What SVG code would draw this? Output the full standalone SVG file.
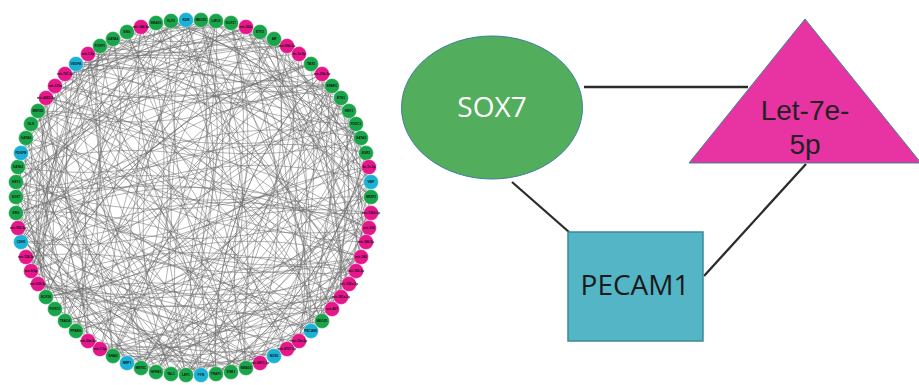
<svg xmlns="http://www.w3.org/2000/svg" width="919" height="385" viewBox="0 0 919 385">
<style>
.g{fill:#1ba54b}.m{fill:#e5178b}.b{fill:#1cb2d6}
.nd{stroke:#ffffff;stroke-width:0.4}
.lb{font-family:"Liberation Sans",Arial,sans-serif;font-size:3.2px;font-weight:bold;fill:#111;text-anchor:middle}
.e{fill:none;stroke:#6a6a6a;stroke-width:0.7;stroke-opacity:0.72}
.c{stroke:#2b2b2b;stroke-width:2.3;fill:none}
.big{font-family:"Open Sans","Noto Sans",sans-serif;font-size:28px;text-anchor:middle}
.tri{font-family:"Liberation Sans",Arial,sans-serif;font-size:28px;text-anchor:middle}
</style>
<rect width="919" height="385" fill="#ffffff"/>
<g id="network-edges">
<path class="e" d="M371 197A400 400 0 0 1 16 197M371 213A400 400 0 0 1 127 363M369 228A400 400 0 0 1 156 23M366 242A400 400 0 0 1 216 374M361 257A400 400 0 0 1 100 46M356 271A400 400 0 0 1 21 242M349 284A400 400 0 0 1 332 86M341 297A400 400 0 0 1 21 153M332 309A400 400 0 0 1 88 341M322 321A400 400 0 0 1 113 39M311 331A400 400 0 0 1 322 74M299 341A400 400 0 0 1 16 197M287 349A400 400 0 0 1 246 27M274 356A400 400 0 0 1 100 349M260 363A400 400 0 0 1 141 27M246 368A400 400 0 0 1 361 257M231 372A400 400 0 0 1 16 213M216 374A400 400 0 0 1 274 39M201 375A400 400 0 0 1 100 46M186 375A400 400 0 0 1 369 228M171 374A400 400 0 0 1 16 213M156 372A400 400 0 0 1 361 138M141 368A400 400 0 0 1 216 21M127 363A400 400 0 0 1 76 64M113 356A400 400 0 0 1 332 309M100 349A400 400 0 0 1 322 74M88 341A400 400 0 0 1 18 167M76 331A400 400 0 0 1 356 271M65 321A400 400 0 0 1 201 20M55 309A400 400 0 0 1 371 213M46 297A400 400 0 0 1 100 46M38 284A400 400 0 0 1 201 375M31 271A400 400 0 0 1 332 86M26 257A400 400 0 0 1 369 228M21 242A400 400 0 0 1 246 27M18 228A400 400 0 0 1 246 368M16 213A400 400 0 0 1 127 32M16 197A400 400 0 0 1 366 242M16 182A400 400 0 0 1 260 363M18 167A400 400 0 0 1 332 86M21 153A400 400 0 0 1 65 321M26 138A400 400 0 0 1 287 46M31 124A400 400 0 0 1 231 372M38 111A400 400 0 0 1 356 271M46 98A400 400 0 0 1 274 39M55 86A400 400 0 0 1 76 331M65 74A400 400 0 0 1 369 228M76 64A400 400 0 0 1 246 368M88 54A400 400 0 0 1 246 27M100 46A400 400 0 0 1 21 242M113 39A400 400 0 0 1 371 182M127 32A400 400 0 0 1 141 368M141 27A400 400 0 0 1 311 331M156 23A400 400 0 0 1 31 271M171 21A400 400 0 0 1 371 182M186 20A400 400 0 0 1 156 372M201 20A400 400 0 0 1 65 74M216 21A400 400 0 0 1 299 341M231 23A400 400 0 0 1 156 372M246 27A400 400 0 0 1 371 182M260 32A400 400 0 0 1 16 213M274 39A400 400 0 0 1 274 356M287 46A400 400 0 0 1 31 271M299 54A400 400 0 0 1 141 368M311 64A400 400 0 0 1 88 54M322 74A400 400 0 0 1 287 349M332 86A400 400 0 0 1 18 167M341 98A400 400 0 0 1 65 321M349 111A400 400 0 0 1 349 284M356 124A400 400 0 0 1 113 39M361 138A400 400 0 0 1 100 349M366 153A400 400 0 0 1 16 182M369 167A400 400 0 0 1 141 368M371 182A400 400 0 0 1 246 27"/>
<path class="e" d="M371 197A400 400 0 0 0 65 321M371 213A400 400 0 0 0 76 64M369 228A400 400 0 0 0 156 372M366 242A400 400 0 0 0 16 213M361 257A400 400 0 0 0 201 20M356 271A400 400 0 0 0 55 309M349 284A400 400 0 0 0 76 64M341 297A400 400 0 0 0 141 368M332 309A400 400 0 0 0 322 74M322 321A400 400 0 0 0 55 86M311 331A400 400 0 0 0 26 257M299 341A400 400 0 0 0 246 27M287 349A400 400 0 0 0 38 111M274 356A400 400 0 0 0 371 213M260 363A400 400 0 0 0 38 284M246 368A400 400 0 0 0 231 23M231 372A400 400 0 0 0 38 111M216 374A400 400 0 0 0 366 153M201 375A400 400 0 0 0 201 20M186 375A400 400 0 0 0 31 271M171 374A400 400 0 0 0 361 138M156 372A400 400 0 0 0 201 20M141 368A400 400 0 0 0 38 111M127 363A400 400 0 0 0 341 98M113 356A400 400 0 0 0 156 23M100 349A400 400 0 0 0 311 331M88 341A400 400 0 0 0 31 124M76 331A400 400 0 0 0 341 98M65 321A400 400 0 0 0 341 297M55 309A400 400 0 0 0 171 21M46 297A400 400 0 0 0 341 98M38 284A400 400 0 0 0 361 257M31 271A400 400 0 0 0 141 27M26 257A400 400 0 0 0 246 368M21 242A400 400 0 0 0 332 86M18 228A400 400 0 0 0 100 46M16 213A400 400 0 0 0 341 297M16 197A400 400 0 0 0 299 54M16 182A400 400 0 0 0 100 349M18 167A400 400 0 0 0 361 257M21 153A400 400 0 0 0 231 23M26 138A400 400 0 0 0 201 375M31 124A400 400 0 0 0 369 228M38 111A400 400 0 0 0 322 74M46 98A400 400 0 0 0 186 375M55 86A400 400 0 0 0 371 213M65 74A400 400 0 0 0 46 297M76 64A400 400 0 0 0 231 372M88 54A400 400 0 0 0 260 32M100 46A400 400 0 0 0 299 341M113 39A400 400 0 0 0 38 284M127 32A400 400 0 0 0 361 257M141 27A400 400 0 0 0 26 138M156 23A400 400 0 0 0 369 167M171 21A400 400 0 0 0 88 341M186 20A400 400 0 0 0 260 363M201 20A400 400 0 0 0 349 284M216 21A400 400 0 0 0 18 228M231 23A400 400 0 0 0 113 356M246 27A400 400 0 0 0 371 197M260 32A400 400 0 0 0 38 111M274 39A400 400 0 0 0 201 375M287 46A400 400 0 0 0 332 309M299 54A400 400 0 0 0 16 197M311 64A400 400 0 0 0 76 331M322 74A400 400 0 0 0 216 374M332 86A400 400 0 0 0 16 213M341 98A400 400 0 0 0 349 284M349 111A400 400 0 0 0 76 64M356 124A400 400 0 0 0 113 356M361 138A400 400 0 0 0 18 228M366 153A400 400 0 0 0 186 375M369 167A400 400 0 0 0 246 27M371 182A400 400 0 0 0 21 242"/>
<path class="e" d="M371 197A400 400 0 0 1 322 321M371 213A400 400 0 0 1 38 284M369 228A400 400 0 0 1 349 111M366 242A400 400 0 0 1 55 86M361 257A400 400 0 0 1 287 349M356 271A400 400 0 0 1 21 153M349 284A400 400 0 0 1 100 349M341 297A400 400 0 0 1 260 32M332 309A400 400 0 0 1 18 228M322 321A400 400 0 0 1 371 182M311 331A400 400 0 0 1 88 54M299 341A400 400 0 0 1 156 372M287 349A400 400 0 0 1 216 21M274 356A400 400 0 0 1 18 228M260 363A400 400 0 0 1 371 182M246 368A400 400 0 0 1 88 54M231 372A400 400 0 0 1 127 363M216 374A400 400 0 0 1 322 74M201 375A400 400 0 0 1 46 98M186 375A400 400 0 0 1 349 284M171 374A400 400 0 0 1 201 20M156 372A400 400 0 0 1 18 228M141 368A400 400 0 0 1 371 182M127 363A400 400 0 0 1 141 27M113 356A400 400 0 0 1 341 98M100 349A400 400 0 0 1 231 372M88 341A400 400 0 0 1 46 98M76 331A400 400 0 0 1 349 111M65 321A400 400 0 0 1 311 331M55 309A400 400 0 0 1 26 138M46 297A400 400 0 0 1 311 64M38 284A400 400 0 0 1 349 284M31 271A400 400 0 0 1 186 20M26 257A400 400 0 0 1 186 375M21 242A400 400 0 0 1 322 74M18 228A400 400 0 0 1 26 138M16 213A400 400 0 0 1 322 321M16 197A400 400 0 0 1 287 46M16 182A400 400 0 0 1 156 372M18 167A400 400 0 0 1 369 228M21 153A400 400 0 0 1 186 20M26 138A400 400 0 0 1 186 375M31 124A400 400 0 0 1 361 138M38 111A400 400 0 0 1 38 284M46 98A400 400 0 0 1 322 321M55 86A400 400 0 0 1 201 20M65 74A400 400 0 0 1 231 372M76 64A400 400 0 0 1 341 98M88 54A400 400 0 0 1 65 321M100 46A400 400 0 0 1 341 297M113 39A400 400 0 0 1 38 111M127 32A400 400 0 0 1 371 213M141 27A400 400 0 0 1 113 356M156 23A400 400 0 0 1 361 138M171 21A400 400 0 0 1 16 182M186 20A400 400 0 0 1 141 368M201 20A400 400 0 0 1 356 124M216 21A400 400 0 0 1 26 257M231 23A400 400 0 0 1 171 374M246 27A400 400 0 0 1 88 54M260 32A400 400 0 0 1 341 297M274 39A400 400 0 0 1 31 271M287 46A400 400 0 0 1 201 375M299 54A400 400 0 0 1 369 167M311 64A400 400 0 0 1 55 86M322 74A400 400 0 0 1 201 375M332 86A400 400 0 0 1 46 297M341 98A400 400 0 0 1 322 321M349 111A400 400 0 0 1 156 23M356 124A400 400 0 0 1 55 309M361 138A400 400 0 0 1 46 98M366 153A400 400 0 0 1 216 374M369 167A400 400 0 0 1 21 153M371 182A400 400 0 0 1 100 349"/>
<path class="e" d="M371 197A400 400 0 0 0 356 271M369 228A400 400 0 0 0 311 331M361 257A400 400 0 0 0 311 331M349 284A400 400 0 0 0 274 356M332 309A400 400 0 0 0 246 368M311 331A400 400 0 0 0 186 375M287 349A400 400 0 0 0 216 374M260 363A400 400 0 0 0 46 297M231 372A400 400 0 0 0 113 356M201 375A400 400 0 0 0 141 368M171 374A400 400 0 0 0 38 284M141 368A400 400 0 0 0 65 321M113 356A400 400 0 0 0 16 213M88 341A400 400 0 0 0 21 153M65 321A400 400 0 0 0 18 228M46 297A400 400 0 0 0 38 111M31 271A400 400 0 0 0 55 86M21 242A400 400 0 0 0 31 124M16 213A400 400 0 0 0 21 153M16 182A400 400 0 0 0 156 23M21 153A400 400 0 0 0 55 86M31 124A400 400 0 0 0 156 23M46 98A400 400 0 0 0 141 27M65 74A400 400 0 0 0 201 20M88 54A400 400 0 0 0 216 21M113 39A400 400 0 0 0 332 86M141 27A400 400 0 0 0 231 23M171 21A400 400 0 0 0 287 46M201 20A400 400 0 0 0 274 39M231 23A400 400 0 0 0 361 138M260 32A400 400 0 0 0 371 197M287 46A400 400 0 0 0 366 153M311 64A400 400 0 0 0 366 242M332 86A400 400 0 0 0 366 153M349 111A400 400 0 0 0 361 257M361 138A400 400 0 0 0 366 242M369 167A400 400 0 0 0 311 331"/>
<path class="e" d="M371 197A400 400 0 0 0 76 64M371 213A400 400 0 0 0 186 375M369 228A400 400 0 0 0 18 228M366 242A400 400 0 0 0 274 39M361 257A400 400 0 0 0 46 297M356 271A400 400 0 0 0 55 86M349 284A400 400 0 0 0 156 372M341 297A400 400 0 0 0 246 27M332 309A400 400 0 0 0 46 98M322 321A400 400 0 0 0 46 297M311 331A400 400 0 0 0 171 21M299 341A400 400 0 0 0 26 138M287 349A400 400 0 0 0 371 182M274 356A400 400 0 0 0 16 197M260 363A400 400 0 0 0 299 54M246 368A400 400 0 0 0 65 321M231 372A400 400 0 0 0 171 21M216 374A400 400 0 0 0 369 167M201 375A400 400 0 0 0 65 74M186 375A400 400 0 0 0 274 39M171 374A400 400 0 0 0 18 167M156 372A400 400 0 0 0 311 331M141 368A400 400 0 0 0 201 20M127 363A400 400 0 0 0 356 124M113 356A400 400 0 0 0 26 138M100 349A400 400 0 0 0 361 257M88 341A400 400 0 0 0 216 21M76 331A400 400 0 0 0 332 86M65 321A400 400 0 0 0 113 39M55 309A400 400 0 0 0 287 349M46 297A400 400 0 0 0 216 21M38 284A400 400 0 0 0 369 228M31 271A400 400 0 0 0 65 74M26 257A400 400 0 0 0 322 321M21 242A400 400 0 0 0 356 124M18 228A400 400 0 0 0 156 372M16 213A400 400 0 0 0 246 27M16 197A400 400 0 0 0 361 257M16 182A400 400 0 0 0 341 98M18 167A400 400 0 0 0 156 372M21 153A400 400 0 0 0 201 20M26 138A400 400 0 0 0 246 368M31 124A400 400 0 0 0 371 197M38 111A400 400 0 0 0 287 349M46 98A400 400 0 0 0 356 124M55 86A400 400 0 0 0 46 297M65 74A400 400 0 0 0 332 86M76 64A400 400 0 0 0 311 331M88 54A400 400 0 0 0 100 349M100 46A400 400 0 0 0 274 39M113 39A400 400 0 0 0 171 374M127 32A400 400 0 0 0 341 297M141 27A400 400 0 0 0 31 271M156 23A400 400 0 0 0 366 153M171 21A400 400 0 0 0 186 375M186 20A400 400 0 0 0 332 309M201 20A400 400 0 0 0 46 98M216 21A400 400 0 0 0 201 375M231 23A400 400 0 0 0 356 271M246 27A400 400 0 0 0 31 271M260 32A400 400 0 0 0 186 375M274 39A400 400 0 0 0 366 242M287 46A400 400 0 0 0 21 153M299 54A400 400 0 0 0 246 368M311 64A400 400 0 0 0 46 297M322 74A400 400 0 0 0 100 46M332 86A400 400 0 0 0 246 368M341 98A400 400 0 0 0 16 182M349 111A400 400 0 0 0 100 349M356 124A400 400 0 0 0 322 321M361 138A400 400 0 0 0 65 74M366 153A400 400 0 0 0 21 242M369 167A400 400 0 0 0 88 341M371 182A400 400 0 0 0 171 21"/>
</g>
<g id="network-nodes">
<g id="k0"><circle class="nd g" cx="371" cy="197" r="7.5"/><text class="lb" x="371" y="198.1">NR2F2</text></g>
<g id="k1"><circle class="nd m" cx="371" cy="213" r="7.5"/><text class="lb" x="371" y="214.1">mir-1306-5p</text></g>
<g id="k2"><circle class="nd m" cx="369" cy="228" r="7.5"/><text class="lb" x="369" y="229.1">mir-126</text></g>
<g id="k3"><circle class="nd m" cx="366" cy="242" r="7.5"/><text class="lb" x="366" y="243.1">mir-186-5p</text></g>
<g id="k4"><circle class="nd m" cx="361" cy="257" r="7.5"/><text class="lb" x="361" y="258.1">mir-140</text></g>
<g id="k5"><circle class="nd m" cx="356" cy="271" r="7.5"/><text class="lb" x="356" y="272.1">mir-766-3p</text></g>
<g id="k6"><circle class="nd m" cx="349" cy="284" r="7.5"/><text class="lb" x="349" y="285.1">mir-125a-5p</text></g>
<g id="k7"><circle class="nd m" cx="341" cy="297" r="7.5"/><text class="lb" x="341" y="298.1">mir-181a-5p</text></g>
<g id="k8"><circle class="nd m" cx="332" cy="309" r="7.5"/><text class="lb" x="332" y="310.1">mir-497</text></g>
<g id="k9"><circle class="nd g" cx="322" cy="321" r="7.5"/><text class="lb" x="322" y="322.1">MEOX1</text></g>
<g id="k10"><circle class="nd b" cx="311" cy="331" r="7.5"/><text class="lb" x="311" y="332.1">PECAM1</text></g>
<g id="k11"><circle class="nd m" cx="299" cy="341" r="7.5"/><text class="lb" x="299" y="342.1">mir-33a-5p</text></g>
<g id="k12"><circle class="nd m" cx="287" cy="349" r="7.5"/><text class="lb" x="287" y="350.1">mir-4707-5p</text></g>
<g id="k13"><circle class="nd b" cx="274" cy="356" r="7.5"/><text class="lb" x="274" y="357.1">NOS3</text></g>
<g id="k14"><circle class="nd m" cx="260" cy="363" r="7.5"/><text class="lb" x="260" y="364.1">mir-6873-3p</text></g>
<g id="k15"><circle class="nd g" cx="246" cy="368" r="7.5"/><text class="lb" x="246" y="369.1">SMAD2</text></g>
<g id="k16"><circle class="nd g" cx="231" cy="372" r="7.5"/><text class="lb" x="231" y="373.1">ESR1</text></g>
<g id="k17"><circle class="nd g" cx="216" cy="374" r="7.5"/><text class="lb" x="216" y="375.1">TRAF1</text></g>
<g id="k18"><circle class="nd b" cx="201" cy="375" r="7.5"/><text class="lb" x="201" y="376.1">FYN</text></g>
<g id="k19"><circle class="nd g" cx="186" cy="375" r="7.5"/><text class="lb" x="186" y="376.1">LEF1</text></g>
<g id="k20"><circle class="nd g" cx="171" cy="374" r="7.5"/><text class="lb" x="171" y="375.1">TAL1</text></g>
<g id="k21"><circle class="nd g" cx="156" cy="372" r="7.5"/><text class="lb" x="156" y="373.1">NFKB1</text></g>
<g id="k22"><circle class="nd g" cx="141" cy="368" r="7.5"/><text class="lb" x="141" y="369.1">MEF2C</text></g>
<g id="k23"><circle class="nd b" cx="127" cy="363" r="7.5"/><text class="lb" x="127" y="364.1">NRP1</text></g>
<g id="k24"><circle class="nd g" cx="113" cy="356" r="7.5"/><text class="lb" x="113" y="357.1">SNAI2</text></g>
<g id="k25"><circle class="nd m" cx="100" cy="349" r="7.5"/><text class="lb" x="100" y="350.1">mir-7-5p</text></g>
<g id="k26"><circle class="nd m" cx="88" cy="341" r="7.5"/><text class="lb" x="88" y="342.1">mir-30a-5p</text></g>
<g id="k27"><circle class="nd g" cx="76" cy="331" r="7.5"/><text class="lb" x="76" y="332.1">PPARG</text></g>
<g id="k28"><circle class="nd g" cx="65" cy="321" r="7.5"/><text class="lb" x="65" y="322.1">TEAD4</text></g>
<g id="k29"><circle class="nd g" cx="55" cy="309" r="7.5"/><text class="lb" x="55" y="310.1">FOXO1</text></g>
<g id="k30"><circle class="nd g" cx="46" cy="297" r="7.5"/><text class="lb" x="46" y="298.1">SOX18</text></g>
<g id="k31"><circle class="nd m" cx="38" cy="284" r="7.5"/><text class="lb" x="38" y="285.1">mir-539-3p</text></g>
<g id="k32"><circle class="nd m" cx="31" cy="271" r="7.5"/><text class="lb" x="31" y="272.1">mir-9-5p</text></g>
<g id="k33"><circle class="nd m" cx="26" cy="257" r="7.5"/><text class="lb" x="26" y="258.1">mir-124-3p</text></g>
<g id="k34"><circle class="nd b" cx="21" cy="242" r="7.5"/><text class="lb" x="21" y="243.1">CDH5</text></g>
<g id="k35"><circle class="nd m" cx="18" cy="228" r="7.5"/><text class="lb" x="18" y="229.1">mir-590-3p</text></g>
<g id="k36"><circle class="nd g" cx="16" cy="213" r="7.5"/><text class="lb" x="16" y="214.1">ERG</text></g>
<g id="k37"><circle class="nd g" cx="16" cy="197" r="7.5"/><text class="lb" x="16" y="198.1">SOX7</text></g>
<g id="k38"><circle class="nd g" cx="16" cy="182" r="7.5"/><text class="lb" x="16" y="183.1">HEY2</text></g>
<g id="k39"><circle class="nd g" cx="18" cy="167" r="7.5"/><text class="lb" x="18" y="168.1">GATA2</text></g>
<g id="k40"><circle class="nd b" cx="21" cy="153" r="7.5"/><text class="lb" x="21" y="154.1">PDGFB</text></g>
<g id="k41"><circle class="nd g" cx="26" cy="138" r="7.5"/><text class="lb" x="26" y="139.1">GATA6</text></g>
<g id="k42"><circle class="nd g" cx="31" cy="124" r="7.5"/><text class="lb" x="31" y="125.1">GLI1</text></g>
<g id="k43"><circle class="nd g" cx="38" cy="111" r="7.5"/><text class="lb" x="38" y="112.1">MEF2D</text></g>
<g id="k44"><circle class="nd m" cx="46" cy="98" r="7.5"/><text class="lb" x="46" y="99.1">mir-4685-5p</text></g>
<g id="k45"><circle class="nd m" cx="55" cy="86" r="7.5"/><text class="lb" x="55" y="87.1">mir-133a</text></g>
<g id="k46"><circle class="nd m" cx="65" cy="74" r="7.5"/><text class="lb" x="65" y="75.1">mir-761-3p</text></g>
<g id="k47"><circle class="nd b" cx="76" cy="64" r="7.5"/><text class="lb" x="76" y="65.1">VEGFA</text></g>
<g id="k48"><circle class="nd m" cx="88" cy="54" r="7.5"/><text class="lb" x="88" y="55.1">mir-1-5p</text></g>
<g id="k49"><circle class="nd g" cx="100" cy="46" r="7.5"/><text class="lb" x="100" y="47.1">FOXF1</text></g>
<g id="k50"><circle class="nd g" cx="113" cy="39" r="7.5"/><text class="lb" x="113" y="40.1">GATA4</text></g>
<g id="k51"><circle class="nd g" cx="127" cy="32" r="7.5"/><text class="lb" x="127" y="33.1">ENG</text></g>
<g id="k52"><circle class="nd m" cx="141" cy="27" r="7.5"/><text class="lb" x="141" y="28.1">mir-144-3p</text></g>
<g id="k53"><circle class="nd g" cx="156" cy="23" r="7.5"/><text class="lb" x="156" y="24.1">SMAD1</text></g>
<g id="k54"><circle class="nd g" cx="171" cy="21" r="7.5"/><text class="lb" x="171" y="22.1">KLF2</text></g>
<g id="k55"><circle class="nd b" cx="186" cy="20" r="7.5"/><text class="lb" x="186" y="21.1">KDR</text></g>
<g id="k56"><circle class="nd g" cx="201" cy="20" r="7.5"/><text class="lb" x="201" y="21.1">MEOX2</text></g>
<g id="k57"><circle class="nd g" cx="216" cy="21" r="7.5"/><text class="lb" x="216" y="22.1">LMO2</text></g>
<g id="k58"><circle class="nd g" cx="231" cy="23" r="7.5"/><text class="lb" x="231" y="24.1">SOX17</text></g>
<g id="k59"><circle class="nd m" cx="246" cy="27" r="7.5"/><text class="lb" x="246" y="28.1">mir-302c</text></g>
<g id="k60"><circle class="nd g" cx="260" cy="32" r="7.5"/><text class="lb" x="260" y="33.1">ETV2</text></g>
<g id="k61"><circle class="nd g" cx="274" cy="39" r="7.5"/><text class="lb" x="274" y="40.1">AR</text></g>
<g id="k62"><circle class="nd m" cx="287" cy="46" r="7.5"/><text class="lb" x="287" y="47.1">mir-99b-5p</text></g>
<g id="k63"><circle class="nd m" cx="299" cy="54" r="7.5"/><text class="lb" x="299" y="55.1">let-7a-5p</text></g>
<g id="k64"><circle class="nd g" cx="311" cy="64" r="7.5"/><text class="lb" x="311" y="65.1">TBX5</text></g>
<g id="k65"><circle class="nd m" cx="322" cy="74" r="7.5"/><text class="lb" x="322" y="75.1">mir-26b-5p</text></g>
<g id="k66"><circle class="nd g" cx="332" cy="86" r="7.5"/><text class="lb" x="332" y="87.1">SPARC</text></g>
<g id="k67"><circle class="nd g" cx="341" cy="98" r="7.5"/><text class="lb" x="341" y="99.1">ETS1</text></g>
<g id="k68"><circle class="nd g" cx="349" cy="111" r="7.5"/><text class="lb" x="349" y="112.1">HEY1</text></g>
<g id="k69"><circle class="nd g" cx="356" cy="124" r="7.5"/><text class="lb" x="356" y="125.1">FOXC1</text></g>
<g id="k70"><circle class="nd g" cx="361" cy="138" r="7.5"/><text class="lb" x="361" y="139.1">GATA3</text></g>
<g id="k71"><circle class="nd g" cx="366" cy="153" r="7.5"/><text class="lb" x="366" y="154.1">EGR1</text></g>
<g id="k72"><circle class="nd m" cx="369" cy="167" r="7.5"/><text class="lb" x="369" y="168.1">let-7e-5p</text></g>
<g id="k73"><circle class="nd b" cx="371" cy="182" r="7.5"/><text class="lb" x="371" y="183.1">VWF</text></g>
</g>
<g id="connectors">
<line class="c" x1="584" y1="87" x2="748" y2="87"/>
<line class="c" x1="512" y1="182" x2="569" y2="232"/>
<line class="c" x1="806" y1="164" x2="704" y2="276"/>
</g>
<g id="node-SOX7">
<ellipse cx="492" cy="107.5" rx="90.5" ry="71.5" fill="#52ad5d" stroke="#3f7f9e" stroke-width="1"/>
<text class="big" x="492" y="117" fill="#ffffff">SOX7</text>
</g>
<g id="node-Let-7e-5p">
<polygon points="805,19 689,163 921,163" fill="#e833a3" stroke="#3b8a9a" stroke-width="1"/>
<text class="tri" fill="#222222"><tspan x="805" y="120">Let-7e-</tspan><tspan x="805" y="154">5p</tspan></text>
</g>
<g id="node-PECAM1">
<rect x="568" y="232" width="135" height="109" fill="#53b5c5" stroke="#3d8a96" stroke-width="1.5"/>
<text class="big" x="635" y="295" fill="#1a1a1a" font-size="29">PECAM1</text>
</g>
</svg>
